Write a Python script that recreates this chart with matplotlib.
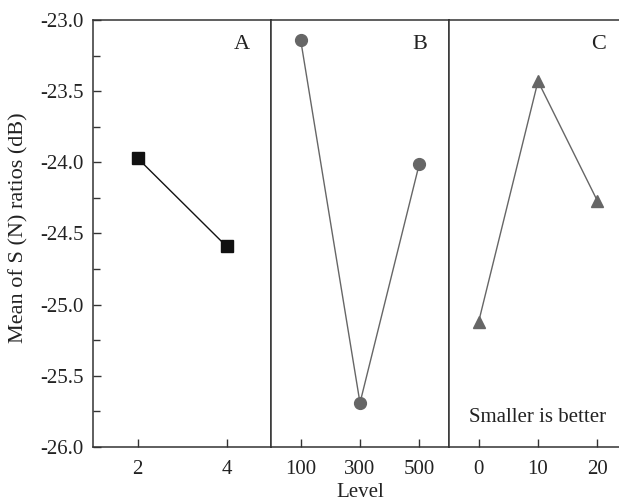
import numpy as np
import matplotlib.pyplot as plt
from matplotlib.ticker import MultipleLocator

plt.rcParams['font.family'] = ['Liberation Serif', 'DejaVu Serif']

# factor levels and mean S/N ratios
levels_a = [2, 4]
sn_a = [-23.97, -24.59]
levels_b = [100, 300, 500]
sn_b = [-23.14, -25.69, -24.01]
levels_c = [0, 10, 20]
sn_c = [-25.12, -23.43, -24.27]

fig = plt.figure(figsize=(6.19, 5.04), dpi=100)

left = 93 / 619
w = 178 / 619
bottom = 57 / 504
h = 427 / 504

ax_a = fig.add_axes([left, bottom, w, h])
ax_b = fig.add_axes([left + w, bottom, w, h])
ax_c = fig.add_axes([left + 2 * w, bottom, w, h])

txt = '#222222'
grey = '#666666'

ax_a.plot(levels_a, sn_a, color='#111111', lw=1.0, marker='s', ms=8)
ax_b.plot(levels_b, sn_b, color=grey, lw=1.0, marker='o', ms=8.5)
ax_c.plot(levels_c, sn_c, color=grey, lw=1.0, marker='^', ms=9)

ax_a.set_xlim(1, 5)
ax_b.set_xlim(0, 600)
ax_c.set_xlim(-5, 25)

for ax, xt, lab in [(ax_a, levels_a, 'A'), (ax_b, levels_b, 'B'), (ax_c, levels_c, 'C')]:
    ax.set_ylim(-26, -23)
    ax.set_xticks(xt)
    for s in ax.spines.values():
        s.set_color('#333333')
        s.set_linewidth(1.1)
    ax.tick_params(axis='x', direction='in', length=6, width=1.0, color='#333333',
                   labelsize=15, labelcolor=txt, pad=9)
    ax.text(0.88, 0.965, lab, transform=ax.transAxes, ha='right', va='top',
            fontsize=16, color=txt)

ax_a.yaxis.set_major_locator(MultipleLocator(0.5))
ax_a.yaxis.set_minor_locator(MultipleLocator(0.25))
ax_a.yaxis.set_major_formatter(plt.FormatStrFormatter('%.1f'))
ax_a.tick_params(axis='y', which='major', direction='in', length=6, width=1.0,
                 color='#333333', labelsize=15, labelcolor=txt, pad=7)
ax_a.tick_params(axis='y', which='minor', direction='in', length=5, width=1.0,
                 color='#333333')

for ax in (ax_b, ax_c):
    ax.set_yticks([])

ax_c.text(-1.7, -25.79, 'Smaller is better', fontsize=15, color=txt, va='center')

fig.text(19 / 619, 0.548, 'Mean of S (N) ratios (dB)', rotation=90, ha='center',
         va='center', fontsize=16, color=txt)
fig.text(0.582, 0.004, 'Level', ha='center', va='bottom', fontsize=15, color=txt)

fig.savefig('out.png', dpi=100)
